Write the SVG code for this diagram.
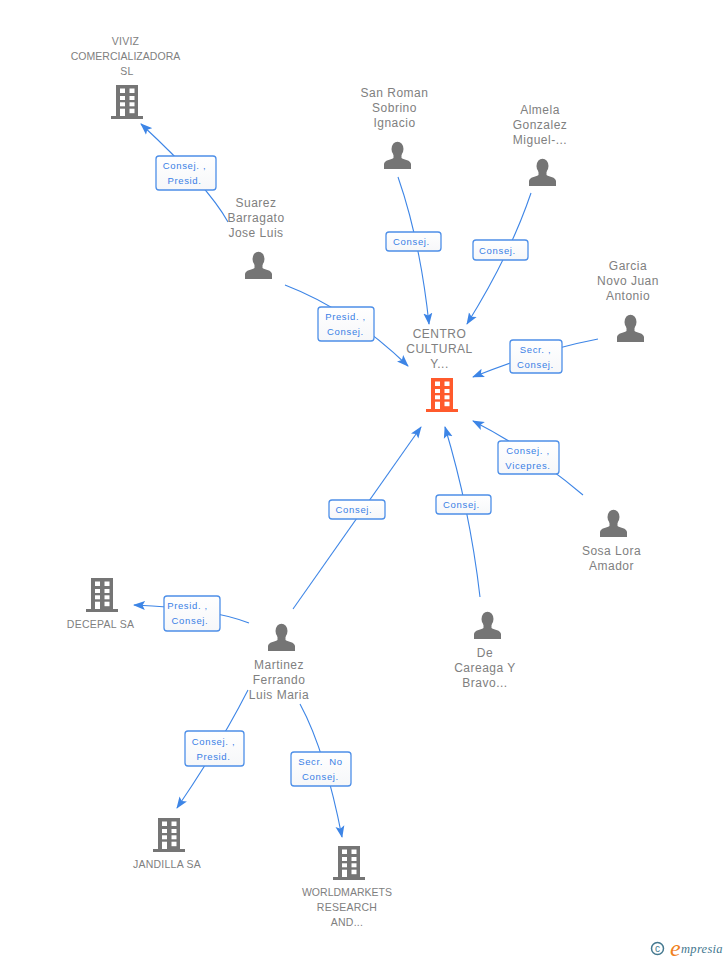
<svg xmlns="http://www.w3.org/2000/svg" width="728" height="960" viewBox="0 0 728 960">
<style>
text{font-family:"Liberation Sans",Arial,sans-serif}
.n{font-size:12px;fill:#808080;text-anchor:middle;letter-spacing:.5px}
.s{font-size:10.5px;fill:#808080;text-anchor:middle;letter-spacing:.25px}
.t{letter-spacing:.03px}
.l{font-size:9.5px;fill:#3a80e6;text-anchor:middle;letter-spacing:.65px}
.b{fill:url(#bg);stroke:#4d8fe8;stroke-width:1.3}
.c{fill:none;stroke:#3d85e6;stroke-width:1.1;marker-end:url(#a)}
.g{fill:#757575}
.o{fill:#ff5a2c}
</style>
<defs>
<linearGradient id="bg" x1="0" y1="0" x2="0" y2="1"><stop offset="0" stop-color="#fff"/><stop offset="1" stop-color="#f6f7f9"/></linearGradient>
<marker id="a" markerUnits="userSpaceOnUse" viewBox="0 0 12 10" refX="11" refY="5" markerWidth="12" markerHeight="10" orient="auto"><path d="M0 0.500L12 5L0 9.500L2.500 5Z" fill="#3d85e6"/></marker>
<g id="p"><ellipse cx="0" cy="-13" rx="6" ry="7.300"/><path d="M-4-8h8v4c3 2 9 2 9.500 6v5h-27v-5c.5-4 6.500-4 9.500-6z"/></g>
<g id="bw"><path d="M-11-16h22v31.500h-22zM-16 15h32v3h-32z"/><g fill="#fff"><rect x="-7" y="-12.500" width="5" height="4.500"/><rect x="2.500" y="-12.500" width="5" height="4.500"/><rect x="-7" y="-5" width="5" height="4"/><rect x="2.500" y="-5" width="5" height="4"/><rect x="-7" y="1.300" width="5" height="4"/><rect x="2.500" y="1.300" width="5" height="4"/><rect x="-7" y="7.700" width="5" height="7.300"/><rect x="2.500" y="7.700" width="5" height="4.500"/></g></g>
</defs>
<g id="connectors">
<path class="c" d="M228 222Q208 186 141 124"/>
<path class="c" d="M285 285Q350 310 408 366"/>
<path class="c" d="M398 177Q420 240 429 324"/>
<path class="c" d="M531 193Q510 255 467 324"/>
<path class="c" d="M598 339Q540 350 473 377"/>
<path class="c" d="M583 495Q530 450 473 421"/>
<path class="c" d="M480 597Q470 510 445 427"/>
<path class="c" d="M293 609L421 427"/>
<path class="c" d="M249 623Q210 608 134 605"/>
<path class="c" d="M248 690Q220 745 177 808"/>
<path class="c" d="M300 704Q325 750 342 837"/>
</g>
<g id="label-1"><rect class="b" x="156" y="156" width="60" height="34" rx="3"/><text class="l" x="184.500" y="169">Consej. ,</text><text class="l" x="184.500" y="184">Presid.</text></g>
<g id="label-2"><rect class="b" x="318" y="307" width="56" height="34" rx="3"/><text class="l" x="345.500" y="320">Presid. ,</text><text class="l" x="345.500" y="335">Consej.</text></g>
<g id="label-3"><rect class="b" x="386" y="232" width="55" height="19" rx="3"/><text class="l" x="411.500" y="245">Consej.</text></g>
<g id="label-4"><rect class="b" x="473" y="240" width="55" height="20" rx="3"/><text class="l" x="497.500" y="254">Consej.</text></g>
<g id="label-5"><rect class="b" x="510" y="340" width="52" height="33" rx="3"/><text class="l" x="535.500" y="353">Secr. ,</text><text class="l" x="535.500" y="368">Consej.</text></g>
<g id="label-6"><rect class="b" x="498" y="441" width="61" height="33" rx="3"/><text class="l" x="528" y="454">Consej. ,</text><text class="l" x="528" y="469">Vicepres.</text></g>
<g id="label-7"><rect class="b" x="436" y="495" width="55" height="19" rx="3"/><text class="l" x="461.500" y="508">Consej.</text></g>
<g id="label-8"><rect class="b" x="329" y="500" width="56" height="19" rx="3"/><text class="l" x="354" y="513">Consej.</text></g>
<g id="label-9"><rect class="b" x="164" y="596" width="56" height="35" rx="3"/><text class="l" x="187.500" y="609">Presid. ,</text><text class="l" x="190" y="624">Consej.</text></g>
<g id="label-10"><rect class="b" x="185" y="731" width="59" height="35" rx="3"/><text class="l" x="213.500" y="745">Consej. ,</text><text class="l" x="213.500" y="760">Presid.</text></g>
<g id="label-11"><rect class="b" x="291" y="752" width="60" height="34" rx="3"/><text class="l" x="320.500" y="765" word-spacing="3">Secr. No</text><text class="l" x="320.500" y="780">Consej.</text></g>
<g id="node-centro"><text class="n" x="439.500" y="338">CENTRO</text><text class="n" x="439.500" y="353">CULTURAL</text><text class="n" x="439.500" y="368">Y...</text><use href="#bw" x="442" y="394" class="o"/></g>
<g id="node-viviz"><text class="s" x="125.500" y="45">VIVIZ</text><text class="s t" x="125.500" y="60">COMERCIALIZADORA</text><text class="s" x="127" y="75">SL</text><use href="#bw" x="127" y="101" class="g"/></g>
<g id="node-suarez"><text class="n" x="256" y="207">Suarez</text><text class="n" x="256" y="222">Barragato</text><text class="n" x="256" y="237">Jose Luis</text><use href="#p" x="258.500" y="272" class="g"/></g>
<g id="node-sanroman"><text class="n" x="394.500" y="97">San Roman</text><text class="n" x="394.500" y="112">Sobrino</text><text class="n" x="394.500" y="127">Ignacio</text><use href="#p" x="397.500" y="162" class="g"/></g>
<g id="node-almela"><text class="n" x="540" y="114">Almela</text><text class="n" x="540" y="129">Gonzalez</text><text class="n" x="540" y="144">Miguel-...</text><use href="#p" x="542.500" y="179" class="g"/></g>
<g id="node-garcia"><text class="n" x="628" y="270">Garcia</text><text class="n" x="628" y="285">Novo Juan</text><text class="n" x="628" y="300">Antonio</text><use href="#p" x="630.500" y="335" class="g"/></g>
<g id="node-sosa"><use href="#p" x="613.500" y="530" class="g"/><text class="n" x="611.500" y="555">Sosa Lora</text><text class="n" x="611.500" y="570">Amador</text></g>
<g id="node-decareaga"><use href="#p" x="487.500" y="632" class="g"/><text class="n" x="485" y="657">De</text><text class="n" x="485" y="672">Careaga Y</text><text class="n" x="485" y="687">Bravo...</text></g>
<g id="node-martinez"><use href="#p" x="281.500" y="644" class="g"/><text class="n" x="279" y="669">Martinez</text><text class="n" x="279" y="684">Ferrando</text><text class="n" x="279" y="699">Luis Maria</text></g>
<g id="node-decepal"><use href="#bw" x="102" y="594" class="g"/><text class="s" x="100.500" y="628">DECEPAL SA</text></g>
<g id="node-jandilla"><use href="#bw" x="169" y="834" class="g"/><text class="s" x="167" y="868">JANDILLA SA</text></g>
<g id="node-worldmarkets"><use href="#bw" x="349" y="862" class="g"/><text class="s t" x="347" y="896">WORLDMARKETS</text><text class="s" x="347" y="911">RESEARCH</text><text class="s" x="347" y="926">AND...</text></g>
<g id="credit"><circle cx="657.500" cy="948.500" r="6" fill="none" stroke="#44788f" stroke-width="1.500"/><text x="657.500" y="952" font-size="10" fill="#44788f" text-anchor="middle">c</text><text x="670" y="956" font-size="24" font-style="italic" fill="#f08020" style="font-family:'Liberation Serif',serif">e</text><text x="681" y="953" font-size="12.500" font-style="italic" fill="#44788f" style="font-family:'Liberation Serif',serif;letter-spacing:.3px">mpresia</text></g>
</svg>
